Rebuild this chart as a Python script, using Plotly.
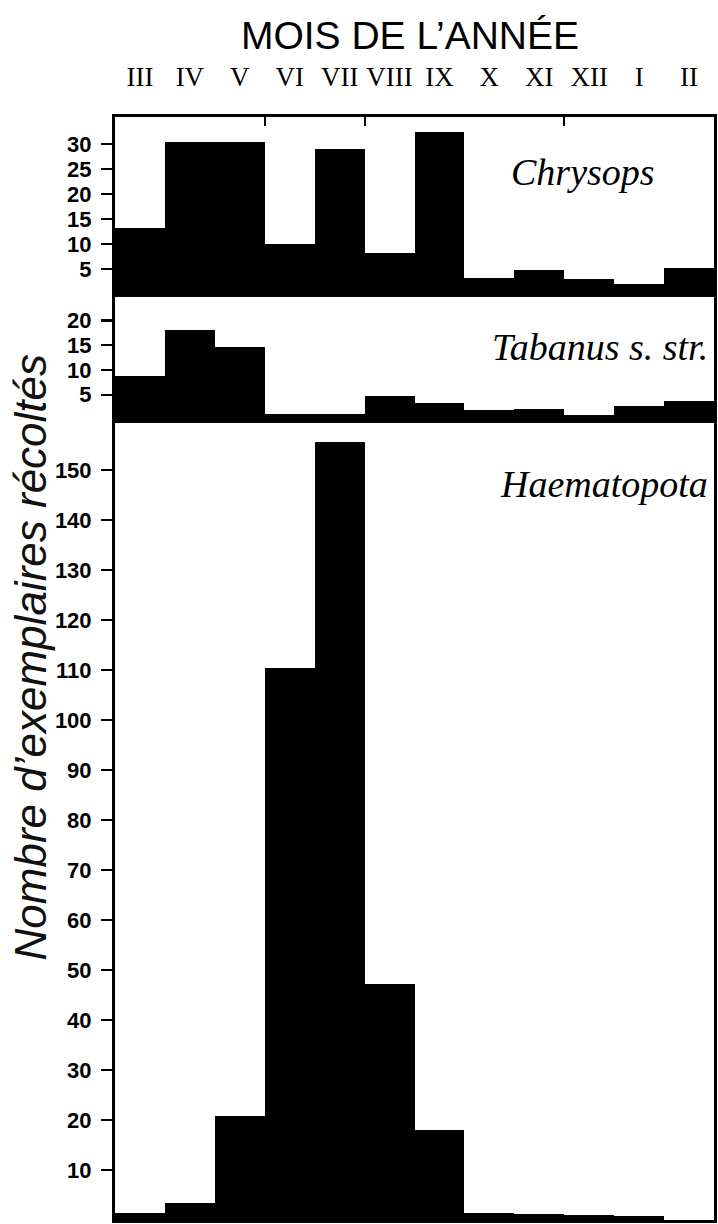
import plotly.graph_objects as go

months = ["III", "IV", "V", "VI", "VII", "VIII", "IX", "X", "XI", "XII", "I", "II"]
chrysops = [13.2, 30.4, 30.4, 10.0, 29.1, 8.3, 32.5, 3.3, 4.8, 3.0, 2.0, 5.2]
tabanus = [8.7, 18.1, 14.7, 1.1, 1.1, 4.8, 3.3, 2.0, 2.1, 1.0, 2.7, 3.8]
haematopota = [1.5, 3.5, 20.8, 110.5, 155.6, 47.3, 18.0, 1.5, 1.3, 1.1, 0.8, 0.0]

x = list(range(len(months)))

fig = go.Figure()
for vals, xa, ya in [(haematopota, "x", "y"), (tabanus, "x2", "y2"), (chrysops, "x3", "y3")]:
    fig.add_trace(go.Bar(x=x, y=vals, width=1.0, marker=dict(color="black", line=dict(width=0)),
                         xaxis=xa, yaxis=ya, showlegend=False, hoverinfo="skip"))

tickfont = dict(family="Liberation Sans Narrow, Liberation Sans, sans-serif", size=22, color="black", weight="bold")
common_x = dict(range=[-0.5, 11.5], showline=True, linewidth=3, linecolor="black", mirror=True,
                showgrid=False, zeroline=False, fixedrange=True)
common_y = dict(showline=True, linewidth=3, linecolor="black", mirror=True, showgrid=False,
                zeroline=False, ticks="outside", ticklen=11, tickwidth=2.5, tickcolor="black",
                tickfont=tickfont, ticklabelstandoff=5, fixedrange=True)

d1 = 800.5 / 1103
d2 = (800.5 + 125.5) / 1103

fig.update_layout(
    width=718, height=1224,
    margin=dict(l=115, r=1, t=117, b=4),
    paper_bgcolor="white", plot_bgcolor="white",
    bargap=0,
    xaxis=dict(**common_x, domain=[0, 1], anchor="y", showticklabels=False, ticks=""),
    xaxis2=dict(**common_x, domain=[0, 1], anchor="y2", showticklabels=False, ticks="", matches="x"),
    xaxis3=dict(**common_x, domain=[0, 1], anchor="y3", side="top", matches="x",
                tickmode="array", tickvals=x, ticktext=months, ticks="",
                tickfont=dict(family="Liberation Serif, DejaVu Serif, serif", size=27, color="black"),
                ticklabelstandoff=17,
                minor=dict(tickmode="array", tickvals=[2.5, 4.5, 8.5], ticks="inside",
                           ticklen=9, tickwidth=2, tickcolor="black")),
    yaxis=dict(**common_y, domain=[0, d1], anchor="x", range=[0, 160.1],
               tickmode="array", tickvals=list(range(10, 151, 10))),
    yaxis2=dict(**common_y, domain=[d1, d2], anchor="x2", range=[0, 25.35],
                tickmode="array", tickvals=[5, 10, 15, 20]),
    yaxis3=dict(**common_y, domain=[d2, 1], anchor="x3", range=[0, 35.4],
                tickmode="array", tickvals=[5, 10, 15, 20, 25, 30]),
    title=dict(text="MOIS DE L\u2019ANNÉE", x=0.571, xanchor="center", y=1 - 35 / 1224, yanchor="middle",
               xref="container", yref="container",
               font=dict(family="Liberation Sans, Arial, sans-serif", size=39, color="black")),
)

sp = dict(family="Liberation Serif, DejaVu Serif, serif", size=38, color="black", style="italic")
fig.add_annotation(text="Chrysops", xref="x3 domain", yref="y3 domain", x=0.782, y=0.69,
                   xanchor="center", yanchor="middle", showarrow=False, font=sp)
fig.add_annotation(text="Tabanus s. str.", xref="x2 domain", yref="y2 domain", x=0.993, y=0.575,
                   xanchor="right", yanchor="middle", showarrow=False, font=sp)
fig.add_annotation(text="Haematopota", xref="x domain", yref="y domain", x=0.993, y=0.919,
                   xanchor="right", yanchor="middle", showarrow=False, font=sp)
fig.add_annotation(text="Nombre d\u2019exemplaires récoltés", xref="paper", yref="paper",
                   x=(30 - 115) / 602, y=(1224 - 657 - 4) / 1103, textangle=-90,
                   xanchor="center", yanchor="middle", showarrow=False,
                   font=dict(family="Liberation Sans, Arial, sans-serif", size=44, color="#111",
                             style="italic"))

fig.write_html("out.html", config={"displayModeBar": False, "staticPlot": True},
               post_script="document.body.style.margin='0px';document.body.style.overflow='hidden';")
